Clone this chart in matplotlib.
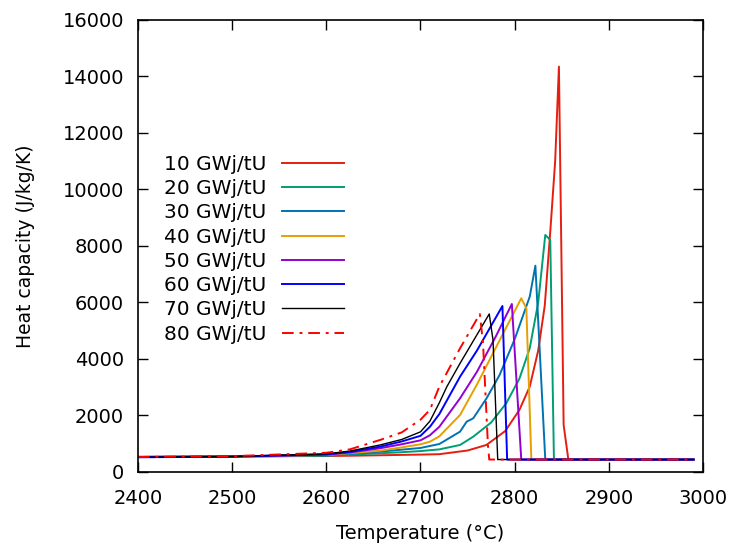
import matplotlib
matplotlib.use('Agg')
import matplotlib.pyplot as plt

# Capacidad calorífica vs temperatura para distintos quemados
etiquetas = ['10 GWj/tU', '20 GWj/tU', '30 GWj/tU', '40 GWj/tU',
             '50 GWj/tU', '60 GWj/tU', '70 GWj/tU', '80 GWj/tU']

t_10 = [2400, 2500, 2600, 2625, 2657, 2680, 2700, 2720, 2750, 2770, 2790, 2805, 2816, 2825, 2832, 2838, 2843, 2847, 2852, 2857, 2990]
cp_10 = [540, 550, 565, 575, 591, 605, 615, 630, 760, 956, 1450, 2195, 3020, 4300, 5900, 8600, 11000, 14350, 1660, 440, 440]

t_20 = [2400, 2500, 2600, 2625, 2657, 2680, 2700, 2720, 2742, 2756, 2775, 2791, 2805, 2816, 2825, 2832.5, 2837.8, 2841.7, 2990]
cp_20 = [530, 545, 575, 615, 662, 700, 740, 800, 956, 1250, 1750, 2430, 3300, 4380, 6000, 8390, 8213, 440, 440]

t_30 = [2400, 2500, 2600, 2625, 2657, 2680, 2700, 2720, 2742, 2749, 2756, 2770, 2784, 2800, 2816, 2822, 2832.5, 2990]
cp_30 = [530, 545, 590, 640, 719, 790, 850, 990, 1427, 1780, 1900, 2600, 3434, 4700, 6206, 7303, 440, 440]

t_40 = [2400, 2500, 2600, 2625, 2657, 2680, 2700, 2710, 2720, 2742, 2760, 2780, 2807, 2812.4, 2817.7, 2990]
cp_40 = [530, 550, 600, 665, 754, 870, 980, 1073, 1260, 2018, 3100, 4400, 6148, 5795, 440, 440]

t_50 = [2400, 2500, 2600, 2625, 2657, 2680, 2700, 2710, 2720, 2742, 2760, 2780, 2797, 2807, 2990]
cp_50 = [530, 550, 610, 690, 839, 980, 1120, 1300, 1600, 2608, 3550, 4800, 5947, 440, 440]

t_60 = [2400, 2500, 2600, 2625, 2657, 2680, 2700, 2710, 2720, 2742, 2760, 2787, 2792, 2990]
cp_60 = [520, 545, 625, 710, 896, 1080, 1280, 1600, 2050, 3374, 4300, 5876, 440, 440]

t_70 = [2400, 2500, 2600, 2625, 2657, 2680, 2700, 2710, 2720, 2728, 2742, 2773, 2777, 2782, 2990]
cp_70 = [520, 545, 640, 740, 956, 1150, 1420, 1800, 2450, 3020, 3847, 5593, 4673, 440, 440]

t_80 = [2400, 2500, 2600, 2625, 2657, 2680, 2700, 2710, 2720, 2742, 2763, 2766.4, 2771.6, 2773, 2990]
cp_80 = [530, 560, 680, 800, 1133, 1400, 1850, 2200, 3020, 4378, 5593, 4560, 956, 440, 440]

series = [(t_10, cp_10), (t_20, cp_20), (t_30, cp_30), (t_40, cp_40),
          (t_50, cp_50), (t_60, cp_60), (t_70, cp_70), (t_80, cp_80)]
colores = ['#e51e10', '#009e73', '#0072b2', '#e69f00',
           '#9400d3', '#0000ff', '#000000', '#ff0000']
estilos = ['-', '-', '-', '-', '-', '-', '-', (0, (6, 3, 1.5, 3))]

plt.rcParams['font.family'] = 'DejaVu Sans'
plt.rcParams['font.size'] = 14

fig = plt.figure(figsize=(7.32, 5.49), dpi=100)
ax = fig.add_axes([0.1885, 0.1403, 0.7719, 0.8233])

for (t, cp), c, ls, lab in zip(series, colores, estilos, etiquetas):
    lw = 1.0 if c == '#000000' else 1.4
    ax.plot(t, cp, color=c, linestyle=ls, linewidth=lw, label=lab)

ax.set_xlim(2400, 3000)
ax.set_ylim(0, 16000)
ax.set_xticks(range(2400, 3001, 100))
ax.set_yticks(range(0, 16001, 2000))
ax.tick_params(direction='in', length=7, width=1, top=True, right=True, labelsize=14)
ax.tick_params(axis='x', pad=12)
ax.tick_params(axis='y', pad=10)
for s in ax.spines.values():
    s.set_linewidth(1.2)

ax.set_xlabel('Temperature (°C)', fontsize=14, labelpad=12)
ax.set_ylabel('Heat capacity (J/kg/K)', fontsize=13.5, labelpad=20)

ax.legend(loc='upper left', bbox_to_anchor=(0.018, 0.737), frameon=False, fontsize=14.5,
          markerfirst=False, handlelength=3.1, labelspacing=0.26, handletextpad=0.75,
          borderpad=0.3)

fig.savefig('out.png', dpi=100)
